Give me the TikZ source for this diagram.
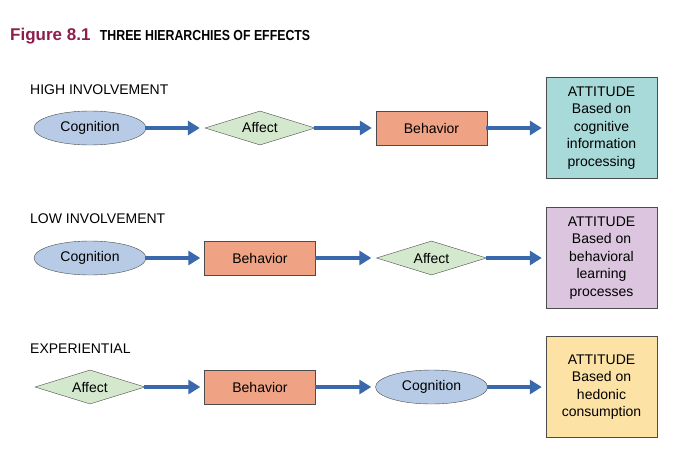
\documentclass[tikz,border=0pt]{standalone}
\usepackage{fontspec}
\setmainfont{Liberation Sans}
\usetikzlibrary{shapes.geometric,arrows.meta}
\definecolor{ellc}{HTML}{B7CBE6}
\definecolor{diac}{HTML}{D3E8CC}
\definecolor{recc}{HTML}{EFA284}
\definecolor{att1}{HTML}{A9DADA}
\definecolor{att2}{HTML}{DCC6DF}
\definecolor{att3}{HTML}{FCE2A4}
\definecolor{arrc}{HTML}{3A68AC}
\definecolor{titc}{HTML}{8E1C4C}
\begin{document}
\begin{tikzpicture}[x=1pt,y=-1pt,
 every node/.style={font=\fontsize{14}{15}\selectfont},
 ell/.style={ellipse,draw=black!70,fill=ellc,minimum width=112pt,minimum height=34pt,inner sep=0pt},
 dia/.style={diamond,draw=black!70,fill=diac,minimum width=110pt,minimum height=34pt,inner sep=0pt,aspect=3},
 rec/.style={rectangle,draw=black!70,fill=recc,minimum width=111pt,minimum height=34pt,inner sep=0pt},
 att/.style={rectangle,draw=black!70,minimum width=111pt,minimum height=101pt,inner sep=0pt,align=center,font=\fontsize{14}{17.5}\selectfont},
 lab/.style={anchor=west,inner sep=0pt,font=\fontsize{14}{15}\selectfont},
 arr/.style={draw=arrc,line width=3.5pt,-{Triangle[length=12pt,width=14pt]},shorten <=-1pt}]
\useasboundingbox (0,0) rectangle (700,460);
\node[anchor=west,inner sep=0pt] (t) at (10,36) {\fontsize{17}{18}\selectfont\bfseries\textcolor{titc}{Figure 8.1}\ \ \fontsize{14.5}{15}\selectfont\scalebox{0.85}[1]{THREE HIERARCHIES OF EFFECTS}};
% row 1
\node[lab] (l1) at (30,90) {HIGH INVOLVEMENT};
\node[ell] (a1) at (90,128) {Cognition};
\node[dia] (b1) at (260,128) {Affect};
\node[rec] (c1) at (431.5,128) {Behavior};
\node[att,fill=att1] (d1) at (601.5,128) {ATTITUDE\\Based on\\cognitive\\information\\processing};
\draw[arr] (a1.east) -- ([xshift=-5pt]b1.west);
\draw[arr] (b1.east) -- ([xshift=-4pt]c1.west);
\draw[arr] (c1.east) -- ([xshift=-4pt]d1.west);
% row 2
\node[lab] (l2) at (30,219) {LOW INVOLVEMENT};
\node[ell] (a2) at (90,258) {Cognition};
\node[rec] (b2) at (260,258) {Behavior};
\node[dia] (c2) at (431.5,258) {Affect};
\node[att,fill=att2] (d2) at (601.5,258) {ATTITUDE\\Based on\\behavioral\\learning\\processes};
\draw[arr] (a2.east) -- ([xshift=-4pt]b2.west);
\draw[arr] (b2.east) -- ([xshift=-5pt]c2.west);
\draw[arr] (c2.east) -- ([xshift=-4pt]d2.west);
% row 3
\node[lab] (l3) at (30,349) {EXPERIENTIAL};
\node[dia] (a3) at (90,387) {Affect};
\node[rec] (b3) at (260,387) {Behavior};
\node[ell] (c3) at (431.5,387) {Cognition};
\node[att,fill=att3] (d3) at (601.5,387) {ATTITUDE\\Based on\\hedonic\\consumption};
\draw[arr] (a3.east) -- ([xshift=-4pt]b3.west);
\draw[arr] (b3.east) -- ([xshift=-4pt]c3.west);
\draw[arr] (c3.east) -- ([xshift=-4pt]d3.west);
\end{tikzpicture}
\end{document}
